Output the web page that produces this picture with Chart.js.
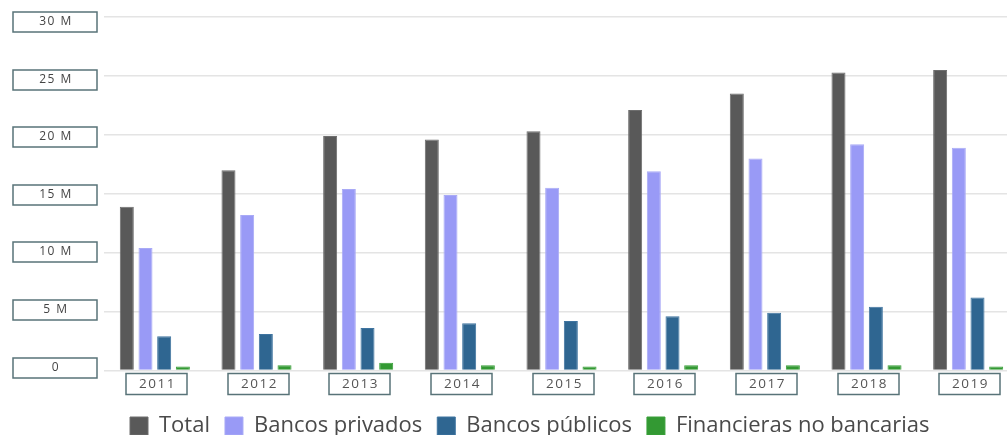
<!DOCTYPE html>
<html>
<head>
<meta charset="utf-8">
<script src="https://cdn.jsdelivr.net/npm/chart.js@4.4.1/dist/chart.umd.min.js"></script>
<style>
  html, body { margin: 0; padding: 0; background: #fff; overflow: hidden; }
  #wrap { width: 1007px; height: 435px; overflow: hidden; }
</style>
</head>
<body>
<div id="wrap">
  <canvas id="creditoChart" width="1019" height="447"></canvas>
</div>
<script>
// valores en millones
const years = ["2011", "2012", "2013", "2014", "2015", "2016", "2017", "2018", "2019"];
const total = [13.9, 17.0, 19.9, 19.6, 20.3, 22.1, 23.5, 25.3, 25.5];
const bancosPrivados = [10.4, 13.2, 15.4, 14.9, 15.5, 16.9, 18.0, 19.2, 18.9];
const bancosPublicos = [2.9, 3.1, 3.6, 4.0, 4.2, 4.6, 4.9, 5.4, 6.2];
const financieras = [0.35, 0.45, 0.65, 0.45, 0.35, 0.45, 0.45, 0.45, 0.35];
const yMax = 30;
const yStep = 5;

function yLabel(v) {
    return v === 0 ? "0" : v + " M";
}

// cajas alrededor de las etiquetas de los ejes
const labelBoxes = {
    id: "labelBoxes",
    afterDraw(chart) {
        const ctx = chart.ctx;
        const area = chart.chartArea;
        const x = chart.scales.x;
        const y = chart.scales.y;
        const zero = y.getPixelForValue(0);
        ctx.save();
        ctx.strokeStyle = "#587378";
        ctx.lineWidth = 1.5;
        ctx.textAlign = "center";
        ctx.textBaseline = "middle";
        ctx.letterSpacing = "1.5px";

        ctx.font = "12px 'Open Sans'";
        y.ticks.forEach((t, i) => {
            // las cajas van un poco mas juntas que la grilla
            const py = Math.round(zero - 3 + (y.getPixelForTick(i) - zero) * 0.976);
            ctx.strokeRect(area.left - 91, py - 10, 84, 20);
            ctx.fillStyle = "#444";
            ctx.fillText(yLabel(t.value), area.left - 48, py);
        });

        ctx.font = "13.5px 'Open Sans'";
        x.ticks.forEach((t, i) => {
            const px = Math.round(x.getPixelForTick(i)) + 1;
            ctx.strokeRect(px - 30, area.bottom + 3, 61, 21);
            ctx.fillStyle = "#555";
            ctx.fillText(years[i], px + 1.5, area.bottom + 14);
        });
        ctx.restore();
    }
};

// la leyenda empieza mas a la derecha que el borde del grafico
const legendShift = {
    id: "legendShift",
    afterLayout(chart) {
        chart.legend.left += 115;
        chart.legend.right += 115;
    }
};

Chart.defaults.font.family = "'Open Sans', sans-serif";

const ctx = document.getElementById("creditoChart").getContext("2d");
const creditoChart = new Chart(ctx, {
    type: "bar",
    data: {
        labels: years,
        datasets: [{
            label: "Total",
            data: total,
            backgroundColor: "#595959",
            borderColor: "#6e6e6e",
            borderWidth: 1
        }, {
            label: "Bancos privados",
            data: bancosPrivados,
            backgroundColor: "#999af6",
            borderColor: "#a9aaf6",
            borderWidth: 1
        }, {
            label: "Bancos públicos",
            data: bancosPublicos,
            backgroundColor: "#2f6691",
            borderColor: "#3f74a0",
            borderWidth: 1
        }, {
            label: "Financieras no bancarias",
            data: financieras,
            backgroundColor: "#339933",
            borderColor: "#3aa03a",
            borderWidth: 1
        }]
    },
    options: {
        responsive: false,
        animation: false,
        layout: {
            padding: { top: 17, left: 0, right: 0, bottom: 0 }
        },
        datasets: {
            bar: {
                barPercentage: 0.75,
                categoryPercentage: 0.735
            }
        },
        scales: {
            x: {
                grid: { display: false },
                border: { display: false },
                ticks: { display: false },
                afterFit: function(scale) {
                    scale.height = 29.5;
                }
            },
            y: {
                min: 0,
                max: yMax,
                ticks: { display: false, stepSize: yStep },
                grid: {
                    color: "#e4e4e4",
                    lineWidth: 1.5,
                    drawTicks: false
                },
                border: { display: false },
                afterFit: function(scale) {
                    scale.width = 104;
                }
            }
        },
        plugins: {
            legend: {
                position: "bottom",
                align: "start",
                labels: {
                    boxWidth: 18,
                    boxHeight: 18,
                    padding: 15,
                    color: "#4a4a4a",
                    font: { size: 22 }
                }
            },
            tooltip: { enabled: false }
        }
    },
    plugins: [labelBoxes, legendShift]
});
</script>
</body>
</html>
